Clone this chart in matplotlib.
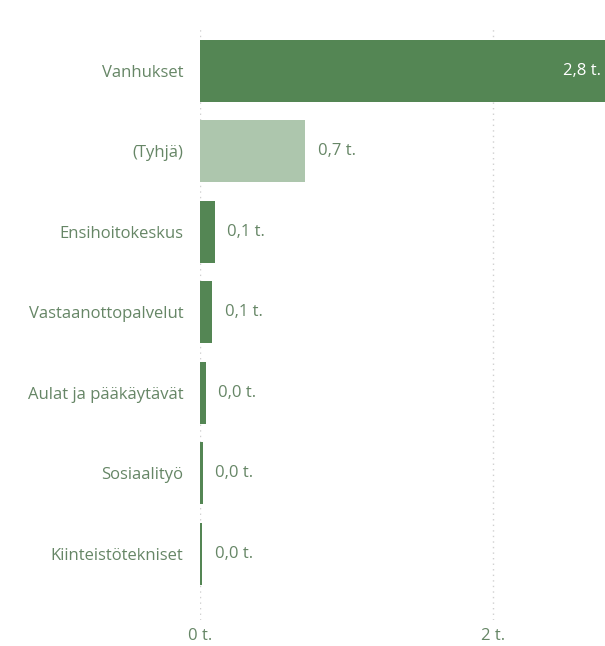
import matplotlib.pyplot as plt

categories = ['Vanhukset', '(Tyhjä)', 'Ensihoitokeskus', 'Vastaanottopalvelut',
              'Aulat ja pääkäytävät', 'Sosiaalityö', 'Kiinteistötekniset']
values = [2.8, 0.72, 0.1, 0.085, 0.04, 0.02, 0.015]
value_labels = ['2,8 t.', '0,7 t.', '0,1 t.', '0,1 t.', '0,0 t.', '0,0 t.', '0,0 t.']
xticks = [0, 2]
xtick_labels = ['0 t.', '2 t.']

dark = '#548654'
light = '#adc6ad'
text_col = '#668666'

plt.rcParams['font.family'] = ['Open Sans', 'DejaVu Sans']

fig = plt.figure(figsize=(6.05, 6.46), dpi=100)
ax = fig.add_axes([200 / 605, 1 - 620 / 646, 1 - 200 / 605, (620 - 28) / 646])

colors = [dark if c != '(Tyhjä)' else light for c in categories]
y = range(len(categories))
ax.barh(y, values, height=0.77, color=colors, zorder=2)

xmax = (605 - 200) / 146.5
ax.set_xlim(0, xmax)
ax.set_ylim(6.82, -0.534)

for xv in xticks:
    ax.axvline(xv, color='#d0d0d0', linestyle=(0, (1, 3)), linewidth=1, zorder=1)

fs = 12
for i, (v, lab) in enumerate(zip(values, value_labels)):
    if v > xmax * 0.8:
        ax.text(xmax - 0.03, i, lab, color='white', fontsize=fs,
                ha='right', va='center')
    else:
        ax.text(v + 0.085, i, lab, color=text_col, fontsize=fs,
                ha='left', va='center')

ax.set_yticks(list(y))
ax.set_yticklabels(categories, fontsize=fs, color=text_col)
ax.set_xticks(xticks)
ax.set_xticklabels(xtick_labels, fontsize=fs, color=text_col)
ax.tick_params(axis='y', length=0, pad=12)
ax.tick_params(axis='x', length=0, pad=6)
for s in ax.spines.values():
    s.set_visible(False)

fig.savefig('out.png', dpi=100)
